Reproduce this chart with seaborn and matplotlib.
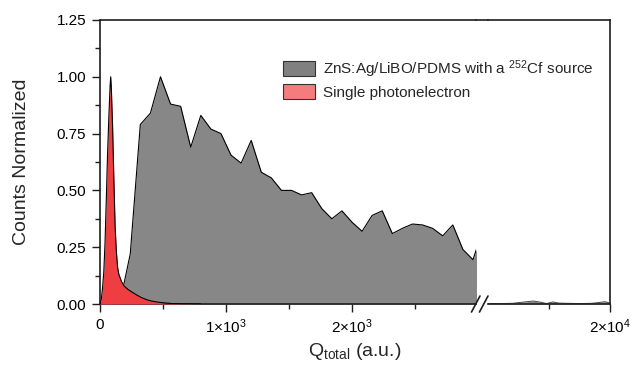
import matplotlib
matplotlib.use("Agg")
import matplotlib.pyplot as plt
from matplotlib.lines import Line2D
from matplotlib.patches import Patch
from matplotlib.ticker import FixedLocator
import seaborn as sns
import pandas as pd

# Charge spectrum of the ZnS:Ag/LiBO/PDMS scintillator under a 252Cf source (normalized)
cf_q = [0, 80, 160, 240, 320, 400, 480, 560, 640, 720, 800, 880, 960, 1040,
        1120, 1200, 1280, 1360, 1440, 1520, 1600, 1680, 1760, 1840, 1920, 2000,
        2080, 2160, 2240, 2320, 2400, 2480, 2560, 2640, 2720, 2800, 2880, 2960, 3040]
cf_counts = [0.0, 0.0, 0.01, 0.22, 0.79, 0.84, 1.0, 0.88, 0.87, 0.69, 0.83, 0.77,
             0.75, 0.655, 0.62, 0.72, 0.58, 0.555, 0.50, 0.50, 0.48, 0.49, 0.42,
             0.375, 0.41, 0.36, 0.32, 0.39, 0.41, 0.31, 0.333, 0.352, 0.348, 0.333,
             0.30, 0.348, 0.24, 0.195, 0.33]

# High-charge tail of the same spectrum (beyond the axis break)
cf_tail_q = [10000, 11000, 12000, 12500, 13000, 13700, 14300, 14800, 15300,
             15800, 16500, 17500, 18500, 19000, 19600, 20000]
cf_tail_counts = [0.002, 0.002, 0.003, 0.006, 0.009, 0.013, 0.008, 0.002, 0.009,
                  0.004, 0.003, 0.002, 0.003, 0.006, 0.010, 0.004]

# Single photoelectron charge spectrum (normalized)
spe_q = [0, 10, 20, 30, 40, 50, 60, 70, 80, 85, 90, 100, 110, 120, 130, 140, 150,
         170, 190, 220, 250, 290, 330, 370, 410, 450, 490, 530, 570, 650, 800]
spe_counts = [0.0, 0.02, 0.07, 0.14, 0.27, 0.46, 0.66, 0.82, 0.96, 1.0, 0.95, 0.78,
              0.55, 0.34, 0.23, 0.16, 0.13, 0.10, 0.08, 0.065, 0.054, 0.04, 0.028,
              0.019, 0.013, 0.009, 0.006, 0.004, 0.002, 0.001, 0.0]

y_ticks = [0, 0.25, 0.5, 0.75, 1.0, 1.25]
y_tick_labels = ["0.00", "0.25", "0.50", "0.75", "1.00", "1.25"]
left_ticks = [0, 1000, 2000]
left_tick_labels = ["0", "1×10$^{3}$", "2×10$^{3}$"]
right_ticks = [20000]
right_tick_labels = ["2×10$^{4}$"]

legend_labels = ["ZnS:Ag/LiBO/PDMS with a $^{252}$Cf source", "Single photonelectron"]

sns.set_theme(style="ticks")
plt.rcParams["font.family"] = ["Liberation Sans", "DejaVu Sans"]
plt.rcParams["mathtext.fontset"] = "custom"
plt.rcParams["mathtext.rm"] = "Liberation Sans"
plt.rcParams["mathtext.it"] = "Liberation Sans:italic"
plt.rcParams["mathtext.bf"] = "Liberation Sans:bold"

GRAY = "#878787"
RED = "#EF3E42"
SPINE = "#1e1e1e"

W, H = 634, 370
fig = plt.figure(figsize=(W / 100, H / 100), dpi=100)
axL = fig.add_axes([100 / W, 66 / H, 376 / W, 284 / H])
axR = fig.add_axes([488 / W, 66 / H, 122 / W, 284 / H], sharey=axL)
axR.patch.set_alpha(0)

cf = pd.DataFrame({"q": cf_q, "n": cf_counts})
tail = pd.DataFrame({"q": cf_tail_q, "n": cf_tail_counts})
spe = pd.DataFrame({"q": spe_q, "n": spe_counts})

# Left segment: filled spectra with black outlines
axL.fill_between(cf["q"], cf["n"], color=GRAY, lw=0, zorder=2)
sns.lineplot(data=cf, x="q", y="n", ax=axL, color="black", lw=0.8, zorder=2.5,
             legend=False, sort=False)
axL.fill_between(spe["q"], spe["n"], color=RED, lw=0, zorder=3)
sns.lineplot(data=spe, x="q", y="n", ax=axL, color="black", lw=0.8, zorder=3.5,
             legend=False, sort=False)

# Right segment after the break
axR.fill_between(tail["q"], tail["n"], color=GRAY, lw=0, zorder=2)
sns.lineplot(data=tail, x="q", y="n", ax=axR, color="#444444", lw=0.7, zorder=2.5,
             legend=False, sort=False)

axL.set_xlim(0, 2984)
axR.set_xlim(10000, 20000)
axL.set_ylim(0, 1.25)

for ax in (axL, axR):
    ax.set_xlabel("")
    ax.set_ylabel("")
    for s in ax.spines.values():
        s.set_color(SPINE)
        s.set_linewidth(1.2)
    ax.tick_params(which="major", direction="out", length=6, width=1.0,
                   color=SPINE, labelsize=11, labelcolor="black", pad=4)
    ax.tick_params(which="minor", direction="out", length=3.5, width=1.0,
                   color=SPINE)

axL.spines["right"].set_visible(False)
axR.spines["left"].set_visible(False)
axL.spines["top"].set_visible(True)
axR.spines["top"].set_visible(True)
axR.spines["right"].set_visible(True)

axL.set_yticks(y_ticks)
axL.set_yticklabels(y_tick_labels)
axL.yaxis.set_minor_locator(FixedLocator([0.125, 0.375, 0.625, 0.875, 1.125]))

axL.set_xticks(left_ticks)
axL.set_xticklabels(left_tick_labels)
axL.xaxis.set_minor_locator(FixedLocator([500, 1500, 2500]))

axR.set_xticks(right_ticks)
axR.set_xticklabels(right_tick_labels)
axR.xaxis.set_minor_locator(FixedLocator([15000]))
axR.tick_params(axis="y", which="both", left=False, right=False,
                labelleft=False, labelright=False)

# Bridge the top frame across the break
fig.add_artist(Line2D([476 / W, 488 / W], [1 - 20 / H, 1 - 20 / H],
                      transform=fig.transFigure, color=SPINE, lw=1.2))
# Break marks on the bottom axis
for x0 in (471.5, 479.5):
    fig.add_artist(Line2D([x0 / W, (x0 + 8.5) / W], [1 - 312 / H, 1 - 296 / H],
                          transform=fig.transFigure, color=SPINE, lw=1.2))

fig.text(22 / W, 0.5 * (1 - 20 / H + 66 / H), "Counts Normalized", rotation=90,
         ha="center", va="center", fontsize=14)
fig.text(355 / W, 1 - 352 / H, "Q$_{\\mathrm{total}}$ (a.u.)", ha="center",
         va="center", fontsize=14)

handles = [Patch(facecolor="#808080", edgecolor="#333333", lw=0.8),
           Patch(facecolor="#F47C7C", edgecolor="#333333", lw=0.8)]
leg = fig.legend(handles, legend_labels, loc="upper left",
                 bbox_to_anchor=(283 / W, 1 - 58 / H),
                 frameon=False, fontsize=11, handlelength=2.1, handleheight=1.1,
                 handletextpad=0.55, labelspacing=0.3, borderaxespad=0, borderpad=0)
leg.set_zorder(10)

fig.savefig("out.png", dpi=100)
